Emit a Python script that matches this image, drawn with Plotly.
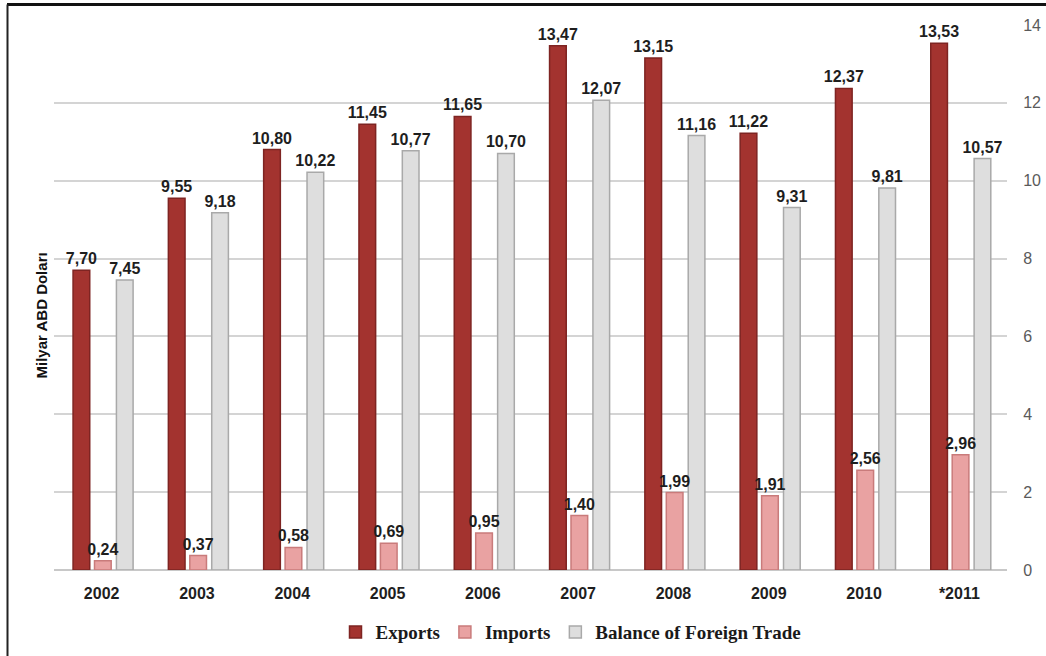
import plotly.graph_objects as go

# Annual foreign trade figures (billion USD)
years = ["2002", "2003", "2004", "2005", "2006", "2007", "2008", "2009", "2010", "*2011"]
exports = [7.70, 9.55, 10.80, 11.45, 11.65, 13.47, 13.15, 11.22, 12.37, 13.53]
imports = [0.24, 0.37, 0.58, 0.69, 0.95, 1.40, 1.99, 1.91, 2.56, 2.96]
balance = [7.45, 9.18, 10.22, 10.77, 10.70, 12.07, 11.16, 9.31, 9.81, 10.57]
y_ticks = [0, 2, 4, 6, 8, 10, 12, 14]


def tr_fmt(values):
    # Turkish-style decimal comma
    return [f"{v:.2f}".replace(".", ",") for v in values]


W, H = 1046, 656
L, R, T, B = 54, 39, 25, 86

# (name, values, fill, edge, offset within category, legend rank)
# Imports are added last so their wide labels sit on top of the neighbouring bars.
series = [
    ("Exports", exports, "#A3332F", "#7E2422", -0.30, 1),
    ("Balance of Foreign Trade", balance, "#DEDEDE", "#A9A9A9", 0.155, 3),
    ("Imports", imports, "#E9A2A2", "#C97B7B", -0.075, 2),
]

fig = go.Figure()
for name, vals, fill, edge, off, rank in series:
    fig.add_trace(go.Bar(
        name=name,
        x=years,
        y=vals,
        width=0.175,
        offset=off,
        legendrank=rank,
        marker=dict(color=fill, line=dict(color=edge, width=1.5)),
        text=tr_fmt(vals),
        textposition="outside",
        constraintext="none",
        textfont=dict(family="Liberation Sans", size=16, color="#1E1E1E", weight="bold"),
        cliponaxis=False,
    ))

fig.update_layout(
    width=W,
    height=H,
    margin=dict(l=L, r=R, t=T, b=B, autoexpand=False),
    paper_bgcolor="white",
    plot_bgcolor="white",
    barmode="overlay",
    showlegend=True,
    legend=dict(
        orientation="h",
        traceorder="normal",
        x=0.5425,
        xanchor="center",
        y=-0.114,
        yanchor="middle",
        font=dict(family="Liberation Serif", size=19, color="#1A1A1A", weight="bold"),
        itemwidth=30,
        tracegroupgap=0,
        bgcolor="rgba(0,0,0,0)",
    ),
    xaxis=dict(
        type="category",
        showgrid=False,
        showline=False,
        ticks="outside",
        ticklen=9,
        tickcolor="rgba(0,0,0,0)",
        tickfont=dict(family="Liberation Sans", size=16, color="#1E1E1E", weight="bold"),
    ),
    yaxis=dict(
        side="right",
        range=[0, 14],
        tickvals=y_ticks,
        showgrid=True,
        gridcolor="#D4D4D4",
        gridwidth=1.5,
        zeroline=True,
        zerolinecolor="#C8C8C8",
        zerolinewidth=1.5,
        ticks="outside",
        ticklen=12,
        tickcolor="rgba(0,0,0,0)",
        tickfont=dict(family="Liberation Sans", size=16, color="#5A5A5A"),
    ),
)

# Axis caption on the left side
fig.add_annotation(
    text="Milyar ABD Doları",
    xref="paper", yref="paper",
    x=(30 - L) / (W - L - R), y=(570 - 316) / (H - T - B),
    textangle=-90,
    showarrow=False,
    font=dict(family="Liberation Sans", size=15, color="#111111", weight="bold"),
)

# Black frame along the top and left edges
px = lambda v: (v - L) / (W - L - R)
py = lambda v: (570 - v) / (H - T - B)
fig.add_shape(type="line", xref="paper", yref="paper",
              x0=px(7), x1=px(W + 5), y0=py(4.5), y1=py(4.5),
              line=dict(color="#111111", width=3))
fig.add_shape(type="line", xref="paper", yref="paper",
              x0=px(7.5), x1=px(7.5), y0=py(4.5), y1=py(H + 5),
              line=dict(color="#222222", width=2))

fig.write_html("out.html")
